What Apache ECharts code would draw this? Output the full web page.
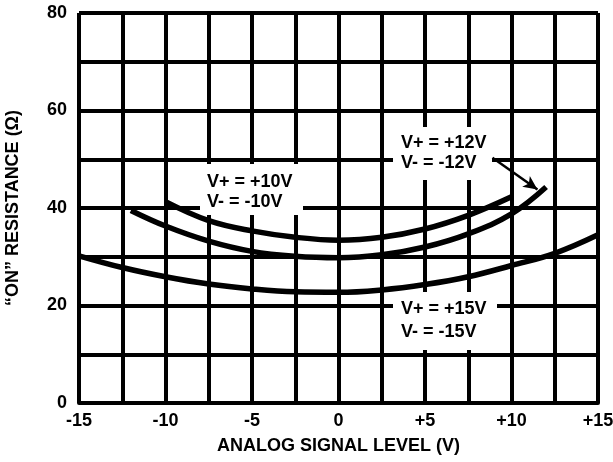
<!DOCTYPE html>
<html>
<head>
<meta charset="utf-8">
<script src="https://cdn.jsdelivr.net/npm/echarts@6/dist/echarts.min.js"></script>
<style>html,body{margin:0;padding:0;background:#fff}#c{width:613px;height:462px}</style>
</head>
<body>
<div id="c"></div>
<script>
// Data
const x15 = [-15, -12.5, -10, -7.5, -5, -2.5, 0, 2.5, 5, 7.5, 10, 12.5, 15];
const r15 = [30.2, 27.8, 25.9, 24.4, 23.4, 22.8, 22.7, 23.2, 24.3, 25.9, 28.2, 30.7, 34.5];
const x12 = [-12, -10, -7.5, -5, -2.5, 0, 2.5, 5, 7.5, 10, 12];
const r12 = [39.5, 36.3, 33.2, 31.1, 30.1, 29.8, 30.4, 32.0, 34.7, 38.8, 44.3];
const x10 = [-10, -7.5, -5, -2.5, 0, 2.5, 5, 7.5, 10];
const r10 = [41.3, 37.4, 35.3, 34.0, 33.4, 34.0, 35.7, 38.5, 42.3];
const arrowFrom = [8.9, 50.3];
const arrowTo = [11.5, 43.8];
const xTickLabels = {'-15':'-15','-10':'-10','-5':'-5','0':'0','5':'+5','10':'+10','15':'+15'};
const yTickLabels = {'0':'0','20':'20','40':'40','60':'60','80':'80'};

const FONT = "'Liberation Sans', Arial, Helvetica, sans-serif";
const pairs = (xs, ys) => xs.map((x, i) => [x, ys[i]]);

const chart = echarts.init(document.getElementById('c'));
const lineStyle = {color: '#000', width: 5.5};
const splitStyle = {show: true, lineStyle: {color: '#000', width: 4}};
const txt = {fontFamily: FONT, fontWeight: 'bold', fontSize: 18, color: '#000'};

function labelGroup(rect, lines, tx, ty, lh) {
  return [
    {type: 'rect', z: 5, shape: rect, style: {fill: '#fff'}},
    {type: 'text', z: 6, x: tx, y: ty, style: {text: lines, font: 'bold 18px ' + FONT, fill: '#000', lineHeight: lh}}
  ];
}

chart.setOption({
  animation: false,
  backgroundColor: '#fff',
  grid: {left: 79, right: 15, top: 13, bottom: 59, outerBoundsMode: 'none', containLabel: false},
  xAxis: {
    type: 'value', min: -15, max: 15, interval: 2.5,
    name: 'ANALOG SIGNAL LEVEL (V)', nameLocation: 'middle', nameGap: 34,
    nameTextStyle: txt,
    axisLine: {show: true, onZero: false, lineStyle: {color: '#000', width: 4}},
    axisTick: {show: false},
    axisLabel: Object.assign({}, txt, {margin: 9, formatter: v => xTickLabels[String(v)] || ''}),
    splitLine: splitStyle
  },
  yAxis: {
    type: 'value', min: 0, max: 80, interval: 10,
    name: '\u201cON\u201d RESISTANCE (\u03a9)', nameLocation: 'middle', nameGap: 57,
    nameTextStyle: txt,
    axisLine: {show: true, lineStyle: {color: '#000', width: 4}},
    axisTick: {show: false},
    axisLabel: Object.assign({}, txt, {margin: 12, formatter: v => yTickLabels[String(v)] || ''}),
    splitLine: splitStyle
  },
  series: [
    {type: 'line', z: 10, smooth: 0.4, showSymbol: false, lineStyle: lineStyle, data: pairs(x15, r15)},
    {type: 'line', z: 10, smooth: 0.4, showSymbol: false, lineStyle: lineStyle, data: pairs(x12, r12),
      markLine: {silent: true, symbol: ['none', 'arrow'], symbolSize: [10, 14], label: {show: false},
        lineStyle: {color: '#000', width: 2.5, type: 'solid'},
        data: [[{coord: arrowFrom}, {coord: arrowTo}]]}},
    {type: 'line', z: 10, smooth: 0.4, showSymbol: false, lineStyle: lineStyle, data: pairs(x10, r10)}
  ],
  graphic: [].concat(
    labelGroup({x: 200, y: 164, width: 103, height: 51}, 'V+ = +10V\nV- = -10V', 207, 172, 20),
    labelGroup({x: 393, y: 127, width: 99, height: 53}, 'V+ = +12V\nV- = -12V', 401, 133, 20),
    labelGroup({x: 393, y: 292, width: 104, height: 58}, 'V+ = +15V\nV- = -15V', 401, 298, 23)
  )
});
</script>
</body>
</html>
